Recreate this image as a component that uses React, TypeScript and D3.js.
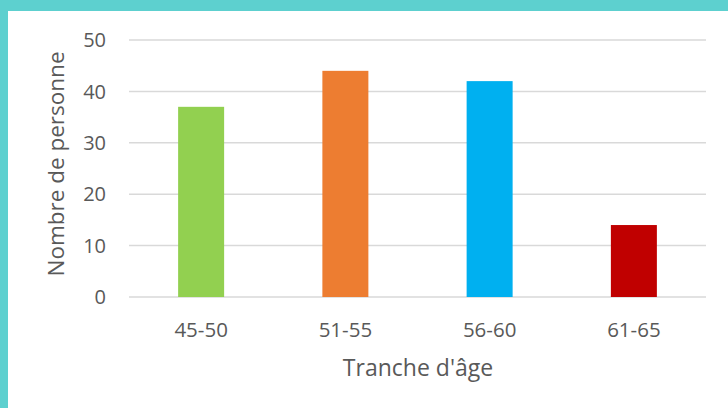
import React, { useEffect, useRef } from 'react';
import * as d3 from 'd3';

const categories = ['45-50', '51-55', '56-60', '61-65'];
const values = [37, 44, 42, 14];
const barColors = ['#92d050', '#ed7d31', '#00b0f0', '#c00000'];
const yTicks = [0, 10, 20, 30, 40, 50];

const W = 728;
const H = 408;

function App() {
  const svgRef = useRef<SVGSVGElement>(null);

  useEffect(() => {
    const svg = d3.select(svgRef.current);
    svg.selectAll('*').remove();

    const left = 129;
    const right = 706;
    const top = 40;
    const bottom = 297;

    // frame
    svg.append('rect').attr('width', W).attr('height', H).attr('fill', '#5dd0cf');
    svg.append('rect').attr('x', 8).attr('y', 11).attr('width', W - 8).attr('height', H - 11).attr('fill', '#fff');

    const x = d3.scaleBand<string>().domain(categories).range([left, right]).paddingInner(0).paddingOuter(0);
    const y = d3.scaleLinear().domain([0, 50]).range([bottom, top]);

    svg
      .selectAll('line.grid')
      .data(yTicks)
      .join('line')
      .attr('class', 'grid')
      .attr('x1', left)
      .attr('x2', right)
      .attr('y1', d => y(d))
      .attr('y2', d => y(d))
      .attr('stroke', '#d9d9d9')
      .attr('stroke-width', 1.5);

    svg
      .selectAll('text.ytick')
      .data(yTicks)
      .join('text')
      .attr('class', 'ytick')
      .attr('x', 106)
      .attr('y', d => y(d))
      .attr('dy', '0.36em')
      .attr('text-anchor', 'end')
      .attr('font-size', 20)
      .attr('fill', '#595959')
      .text(d => d);

    const barW = 46;
    svg
      .selectAll('rect.bar')
      .data(values)
      .join('rect')
      .attr('class', 'bar')
      .attr('x', (d, i) => (x(categories[i]) as number) + x.bandwidth() / 2 - barW / 2)
      .attr('y', d => y(d))
      .attr('width', barW)
      .attr('height', d => bottom - y(d))
      .attr('fill', (d, i) => barColors[i]);

    svg
      .selectAll('text.xtick')
      .data(categories)
      .join('text')
      .attr('class', 'xtick')
      .attr('x', d => (x(d) as number) + x.bandwidth() / 2)
      .attr('y', 337)
      .attr('text-anchor', 'middle')
      .attr('font-size', 20.5)
      .attr('fill', '#595959')
      .text(d => d);

    svg
      .append('text')
      .attr('x', 418)
      .attr('y', 376)
      .attr('text-anchor', 'middle')
      .attr('font-size', 23)
      .attr('fill', '#595959')
      .text("Tranche d'âge");

    svg
      .append('text')
      .attr('transform', `translate(64, 164) rotate(-90)`)
      .attr('text-anchor', 'middle')
      .attr('font-size', 22.5)
      .attr('fill', '#595959')
      .text('Nombre de personne');
  }, []);

  return (
    <svg
      ref={svgRef}
      width={W}
      height={H}
      style={{ display: 'block', position: 'absolute', left: 0, top: 0, fontFamily: '"Open Sans", sans-serif' }}
    />
  );
}

export default App;
